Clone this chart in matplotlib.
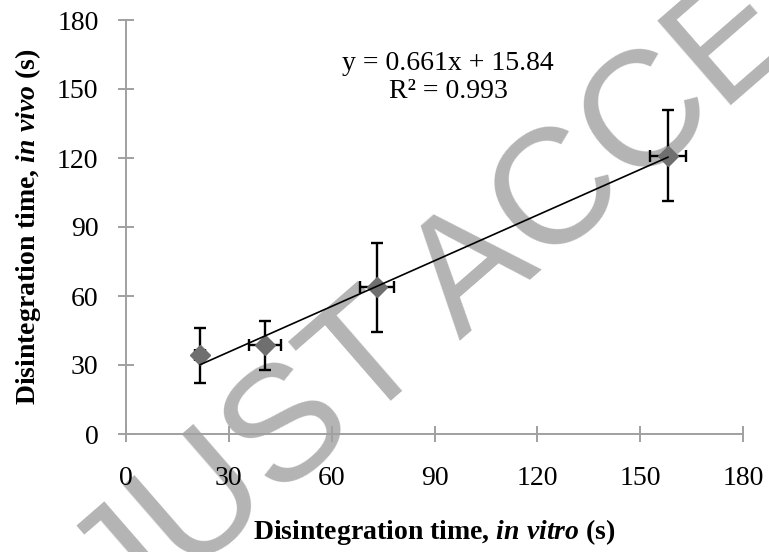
import matplotlib.pyplot as plt
import numpy as np

# values
x_vitro = [21.6, 40.5, 73.2, 158.1]
y_vivo = [34.3, 38.6, 63.7, 121.0]
x_err = [1.5, 4.7, 4.9, 5.2]
y_err = [12.0, 10.6, 19.5, 19.9]
slope, intercept, r2 = 0.661, 15.84, 0.993
ticks = [0, 30, 60, 90, 120, 150, 180]

plt.rcParams['font.family'] = 'Liberation Serif'
plt.rcParams['mathtext.fontset'] = 'custom'
plt.rcParams['mathtext.rm'] = 'Liberation Serif:bold'
plt.rcParams['mathtext.it'] = 'Liberation Serif:italic:bold'
plt.rcParams['mathtext.bf'] = 'Liberation Serif:bold'

fig = plt.figure(figsize=(7.69, 5.52), dpi=100)
ax = fig.add_axes([126 / 769, 1 - 434 / 552, 617 / 769, 414 / 552])
ax.set_facecolor('none')

# watermark behind everything
fig.text(0.783, 0.708, 'JUST ACCEPTED', fontsize=118, family='Liberation Sans',
         color='#b4b4b4', rotation=41, ha='center', va='center',
         rotation_mode='anchor', zorder=-1)

x = np.array(x_vitro)
y = np.array(y_vivo)

# error bars
ax.errorbar(x, y, xerr=x_err, yerr=y_err, fmt='none', ecolor='black',
            elinewidth=1.7, capsize=4.5, capthick=1.7, zorder=2)
# markers
ax.plot(x, y, linestyle='none', marker='D', markersize=10,
        color='#6f6f6f', zorder=3)
# trendline
line_x = np.array([x.min(), x.max()])
ax.plot(line_x, slope * line_x + intercept, color='black', lw=1.2, zorder=4)

ax.text(0.522, 0.861, 'y = %.3fx + %.2f\nR² = %.3f' % (slope, intercept, r2),
        transform=ax.transAxes, ha='center', va='center', fontsize=20,
        linespacing=1.12)

ax.set_xlim(0, 180)
ax.set_ylim(0, 180)
ax.set_xticks(ticks)
ax.set_yticks(ticks)

for side in ['top', 'right']:
    ax.spines[side].set_visible(False)
for side in ['left', 'bottom']:
    ax.spines[side].set_color('#a0a0a0')
    ax.spines[side].set_linewidth(1.4)

ax.tick_params(direction='inout', length=11.5, width=1.4, color='#a0a0a0',
               labelsize=20, labelcolor='black')
ax.tick_params(axis='y', pad=14)
ax.tick_params(axis='x', pad=17)

ax.set_xlabel(r'Disintegration time, $\mathit{in\ vitro}$ (s)',
              fontsize=20, fontweight='bold', labelpad=19)
ax.set_ylabel(r'Disintegration time, $\mathit{in\ vivo}$ (s)',
              fontsize=20, fontweight='bold', labelpad=10)

fig.savefig('out.png', dpi=100)
